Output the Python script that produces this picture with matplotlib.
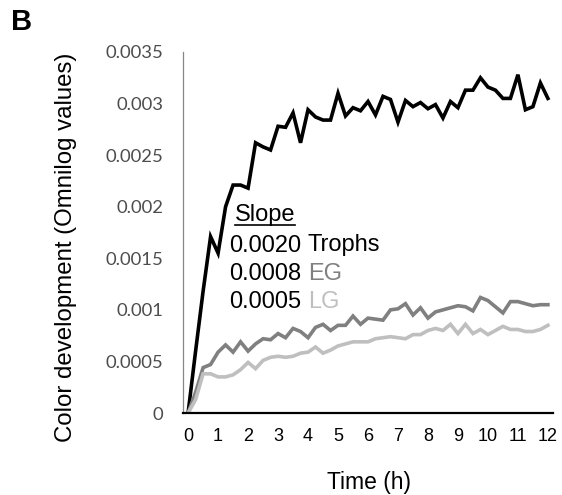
import matplotlib
matplotlib.use("Agg")
import matplotlib.pyplot as plt
from matplotlib.lines import Line2D

W, H = 562, 495

# time in hours (15 min reads)
hours = [i * 0.25 for i in range(49)]

trophs = [0, 0.0006, 0.00118, 0.00171, 0.00155, 0.0020, 0.00221, 0.00221, 0.00218,
          0.00262, 0.00258, 0.00255, 0.00278, 0.00277, 0.00291, 0.00262, 0.00294,
          0.00287, 0.00284, 0.00284, 0.0031, 0.00288, 0.00296, 0.00293, 0.00302,
          0.00289, 0.00307, 0.00304, 0.00282, 0.00303, 0.00297, 0.00301, 0.00295,
          0.00299, 0.00286, 0.00302, 0.00296, 0.00313, 0.00313, 0.00325, 0.00316,
          0.00313, 0.00305, 0.00305, 0.00328, 0.00294, 0.00297, 0.0032, 0.00305]

eg = [0, 0.0002, 0.00044, 0.00047, 0.00059, 0.00066, 0.00059, 0.00069, 0.0006,
      0.00067, 0.00072, 0.00071, 0.00077, 0.00073, 0.00082, 0.00079, 0.00073,
      0.00083, 0.00086, 0.0008, 0.00085, 0.00085, 0.00094, 0.00086, 0.00092,
      0.00091, 0.0009, 0.001, 0.00101, 0.00106, 0.00095, 0.00102, 0.00092,
      0.00098, 0.001, 0.00102, 0.00104, 0.00103, 0.00099, 0.00112, 0.00109,
      0.00103, 0.00097, 0.00108, 0.00108, 0.00106, 0.00104, 0.00105, 0.00105]

lg = [0, 0.00013, 0.00038, 0.00038, 0.00035, 0.00035, 0.00037, 0.00042, 0.00049,
      0.00043, 0.00051, 0.00054, 0.00055, 0.00054, 0.00055, 0.00058, 0.00059,
      0.00064, 0.00058, 0.00061, 0.00065, 0.00067, 0.00069, 0.00069, 0.00069,
      0.00072, 0.00073, 0.00074, 0.00073, 0.00072, 0.00076, 0.00076, 0.0008,
      0.00082, 0.0008, 0.00086, 0.00077, 0.00086, 0.00077, 0.00081, 0.00076,
      0.0008, 0.00084, 0.00081, 0.00081, 0.00079, 0.00079, 0.00081, 0.00085]

series = ["Trophs", "EG", "LG"]
slopes = ["0.0020", "0.0008", "0.0005"]
colors = ["#000000", "#808080", "#bfbfbf"]

yticks = [0, 0.0005, 0.001, 0.0015, 0.002, 0.0025, 0.003, 0.0035]
ytick_labels = ["0", "0.0005", "0.001", "0.0015", "0.002", "0.0025", "0.003", "0.0035"]
xticks = list(range(13))


def px(x, y):
    # pixel position -> figure fraction
    return x / W, 1 - y / H


fig = plt.figure(figsize=(W / 100, H / 100), dpi=100)
ax = fig.add_axes([183 / W, 1 - 413 / H, (553 - 183) / W, (413 - 52) / H])

for vals, c in zip([trophs, eg, lg], colors):
    ax.plot(hours, vals, color=c, lw=2.6, solid_joinstyle="miter")

ax.set_xlim(-0.17, 12.17)
ax.set_ylim(0, 0.0035)
ax.set_xticks(xticks)
ax.set_xticklabels([str(t) for t in xticks], fontfamily="Liberation Sans", fontsize=13)
ax.set_yticks(yticks)
ax.set_yticklabels(ytick_labels, fontfamily="Lato", fontsize=13.3, color="#4d4d4d")
ax.tick_params(axis="x", length=0, pad=11)
ax.tick_params(axis="y", length=0, pad=14)

for s in ["top", "right"]:
    ax.spines[s].set_visible(False)
ax.spines["left"].set_color("#878787")
ax.spines["left"].set_linewidth(0.9)
ax.spines["bottom"].set_color("#000000")
ax.spines["bottom"].set_linewidth(1.6)

fig.text(*px(369, 482), "Time (h)", fontfamily="Liberation Sans", fontsize=16.5,
         ha="center", va="center")
fig.text(*px(66, 247), "Color development (Omnilog values)", fontfamily="Liberation Sans",
         fontsize=17.3, rotation=90, ha="center", va="center")
fig.text(*px(22, 22), "B", fontfamily="Liberation Sans", fontsize=21, fontweight="bold",
         ha="center", va="center")

# slope annotation
fig.text(*px(235, 221), "Slope", fontfamily="Liberation Sans", fontsize=17,
         ha="left", va="baseline")
fig.add_artist(Line2D([235 / W, 295 / W], [1 - 225.5 / H, 1 - 225.5 / H],
                      color="black", lw=1.2))
for i, (sl, name, c) in enumerate(zip(slopes, series, colors)):
    yb = 251.5 + i * 28.3
    fig.text(*px(229, yb), sl, fontfamily="Liberation Sans", fontsize=17,
             ha="left", va="baseline")
    fig.text(*px(308, yb), name, fontfamily="Liberation Sans", fontsize=17,
             color=c, ha="left", va="baseline")

fig.savefig("out.png", dpi=100)
